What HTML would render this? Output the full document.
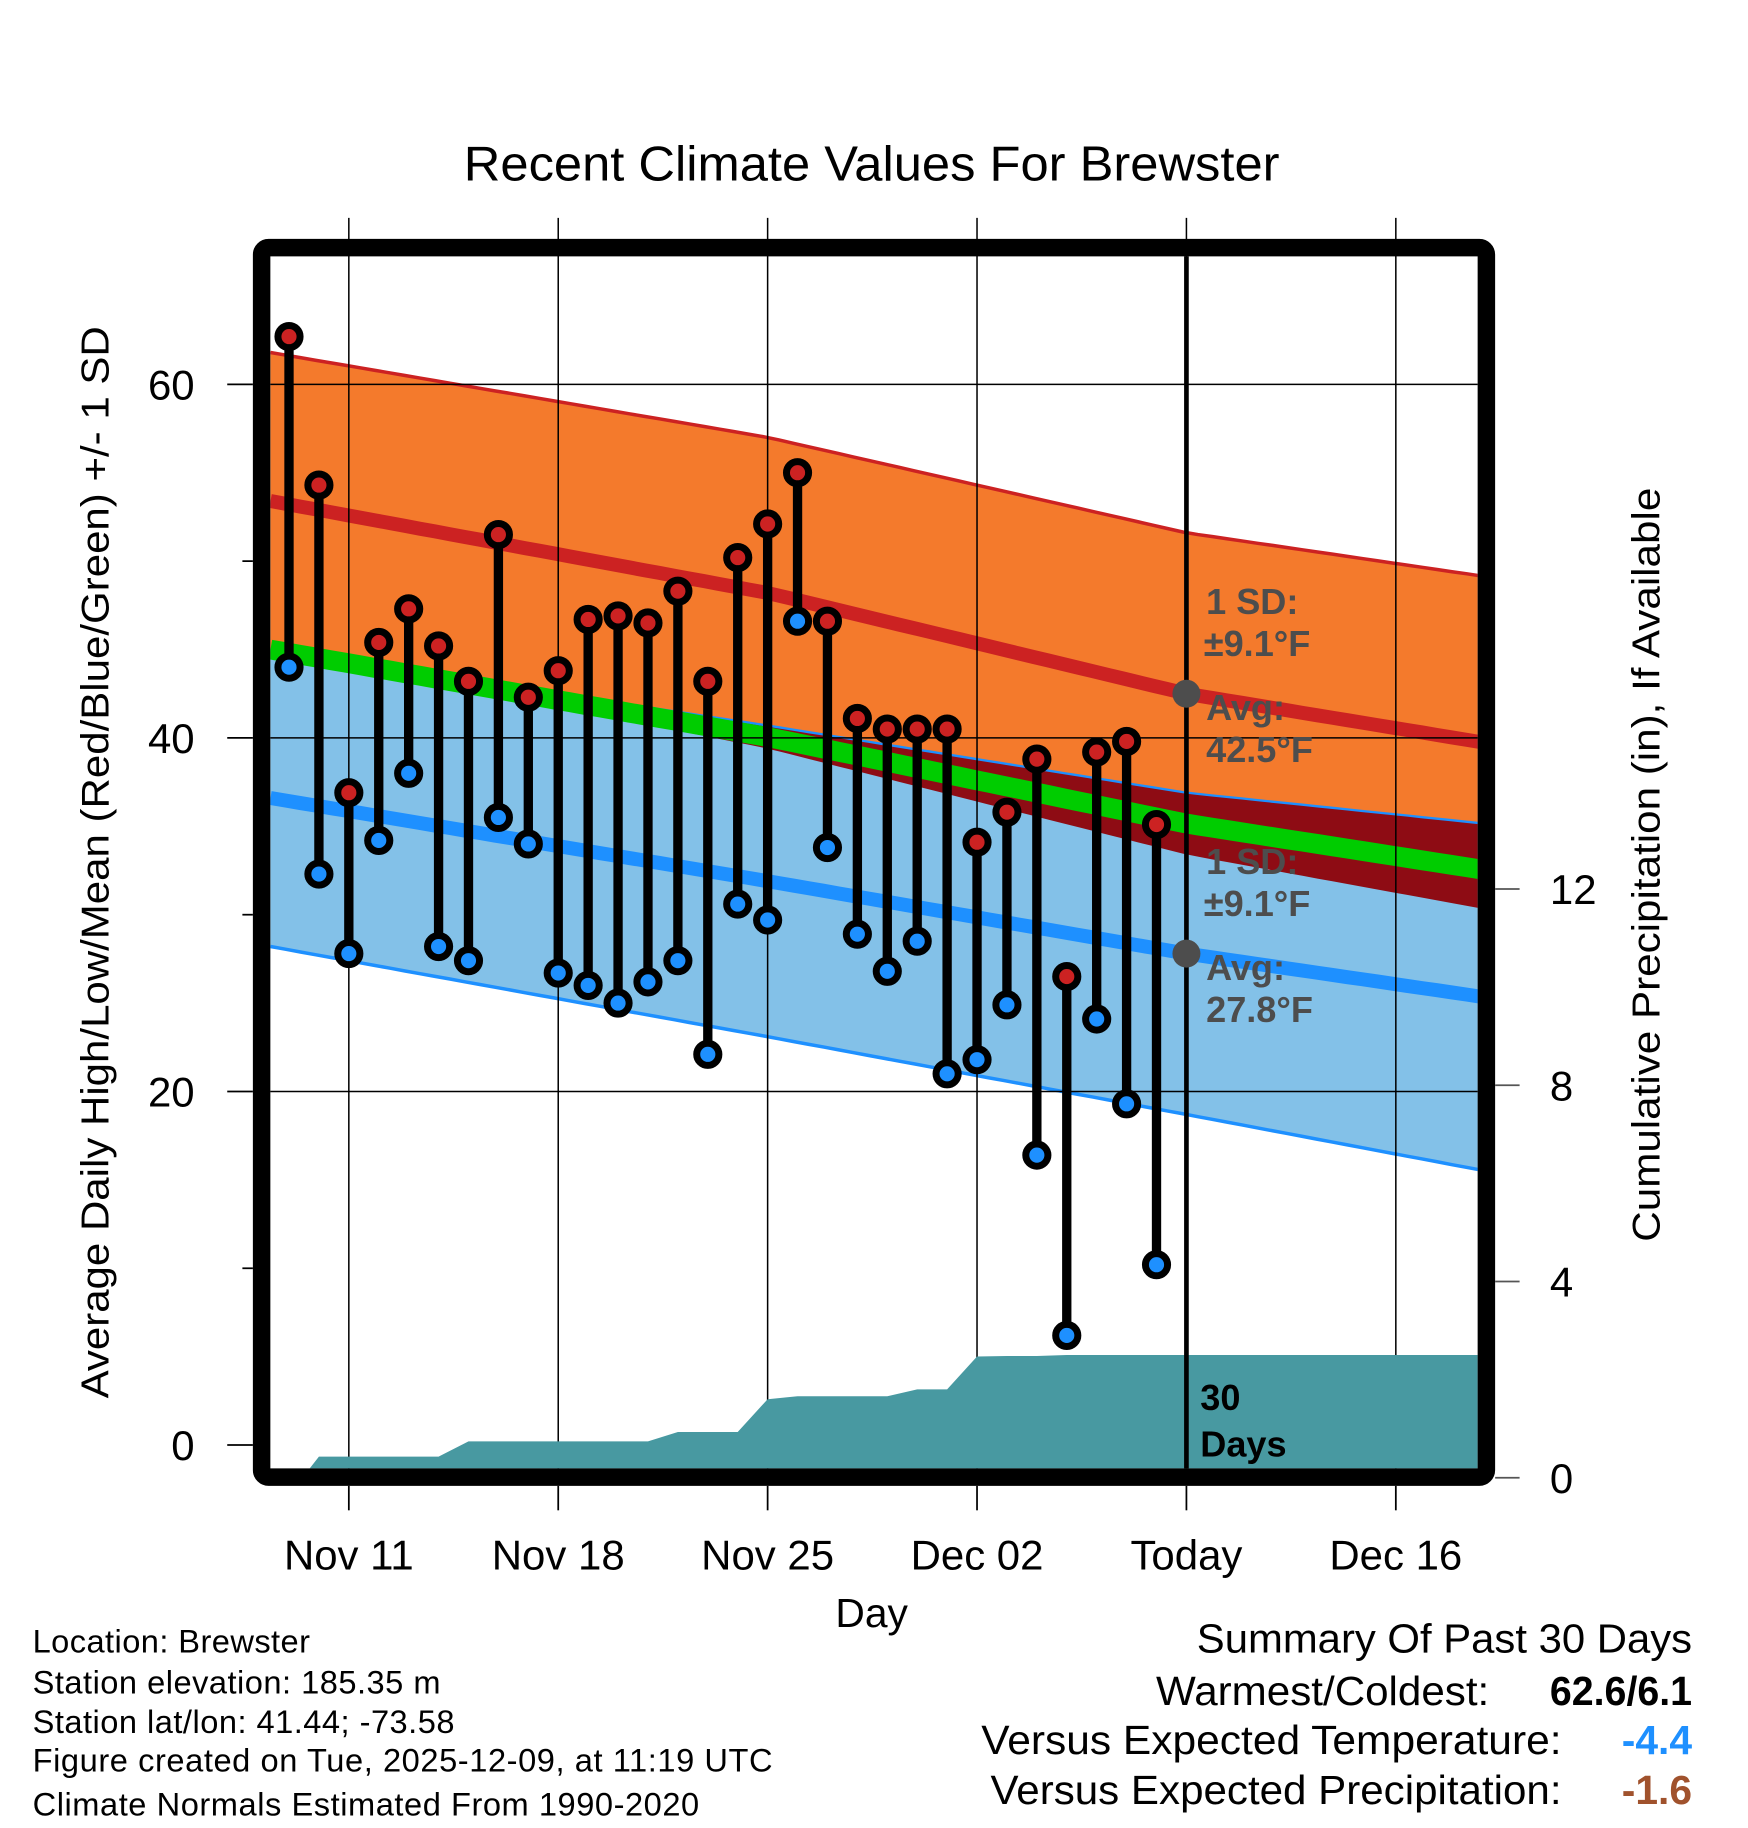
<!DOCTYPE html>
<html><head><meta charset="utf-8"><style>html,body{margin:0;padding:0;background:#fff}svg{display:block}</style></head>
<body>
<svg id="chart" xmlns="http://www.w3.org/2000/svg" width="1748" height="1828" viewBox="0 0 1500 1568.6" preserveAspectRatio="none" font-family="'Liberation Sans', sans-serif">
<defs><clipPath id="plotclip"><rect x="232" y="220" width="1036" height="1040"/></clipPath></defs>
<rect x="0" y="0" width="1500" height="1568.6" fill="#fff"/>
<text x="748" y="155" font-size="42" text-anchor="middle" textLength="700" lengthAdjust="spacingAndGlyphs">Recent Climate Values For Brewster</text>
<g id="bands" clip-path="url(#plotclip)"></g>
<g id="grid"></g>
<g id="precip" clip-path="url(#plotclip)"></g>
<g id="annot"></g>
<g id="marks"></g>
<rect x="224.5" y="212.5" width="1051" height="1055" rx="6" fill="none" stroke="#000" stroke-width="15"/>
<g id="axes"></g>
<text transform="translate(93,740) rotate(-90)" font-size="33" text-anchor="middle" textLength="920" lengthAdjust="spacingAndGlyphs">Average Daily High/Low/Mean (Red/Blue/Green) +/- 1 SD</text>
<text transform="translate(1424,742) rotate(-90)" font-size="33" text-anchor="middle" textLength="647" lengthAdjust="spacingAndGlyphs">Cumulative Precipitation (in), If Available</text>
<text x="748" y="1396" font-size="35" text-anchor="middle">Day</text>
<g font-size="28" lengthAdjust="spacingAndGlyphs">
<text x="28" y="1418" textLength="238">Location: Brewster</text>
<text x="28" y="1453" textLength="350">Station elevation: 185.35 m</text>
<text x="28" y="1487" textLength="362">Station lat/lon: 41.44; -73.58</text>
<text x="28" y="1520" textLength="635">Figure created on Tue, 2025-12-09, at 11:19 UTC</text>
<text x="28" y="1558" textLength="572">Climate Normals Estimated From 1990-2020</text>
</g>
<g font-size="35" text-anchor="end">
<text x="1452" y="1418" textLength="425" lengthAdjust="spacingAndGlyphs">Summary Of Past 30 Days</text>
<text x="1278" y="1463" textLength="286" lengthAdjust="spacingAndGlyphs">Warmest/Coldest:</text>
<text x="1452" y="1463" font-weight="bold" textLength="122" lengthAdjust="spacingAndGlyphs">62.6/6.1</text>
<text x="1340" y="1505" textLength="498" lengthAdjust="spacingAndGlyphs">Versus Expected Temperature:</text>
<text x="1452" y="1505" font-weight="bold" fill="#1e90ff">-4.4</text>
<text x="1340" y="1548" textLength="490" lengthAdjust="spacingAndGlyphs">Versus Expected Precipitation:</text>
<text x="1452" y="1548" font-weight="bold" fill="#a0522d">-1.6</text>
</g>
</svg>
<script>
// ---- data ----
const highs = [62.7,54.3,36.9,45.4,47.3,45.2,43.2,51.5,42.3,43.8,46.7,46.9,46.5,48.3,43.2,50.2,52.1,55.0,46.6,41.1,40.5,40.5,40.5,34.1,35.8,38.8,26.5,39.2,39.8,35.1];
const lows = [44.0,32.3,27.8,34.2,38.0,28.2,27.4,35.5,34.0,26.7,26.0,25.0,26.2,27.4,22.1,30.6,29.7,46.6,33.8,28.9,26.8,28.5,21.0,21.8,24.9,16.4,6.2,24.1,19.3,10.2];
const precipCum = [0,0.43,0.43,0.43,0.43,0.43,0.74,0.74,0.74,0.74,0.74,0.74,0.74,0.93,0.93,0.93,1.6,1.66,1.66,1.66,1.66,1.8,1.8,2.47,2.48,2.48,2.5,2.5,2.5,2.5];
const normDays = [-0.62,16,30,39.7];
const highMean = [53.4,48.2,42.5,39.8];
const highSD = [8.4,8.8,9.1,9.4];
const lowMean = [36.6,31.9,27.8,25.4];
const lowSD = [8.4,8.8,9.1,9.8];
const yTicks = [0,20,40,60];
const yMinor = [10,30,50];
const pTicks = [0,4,8,12];
const xTickDays = [2,9,16,23,30,37];
const xTickLabels = ["Nov 11","Nov 18","Nov 25","Dec 02","Today","Dec 16"];
// ---- scales ----
const NS='http://www.w3.org/2000/svg';
const X = d => 248 + 25.67*d;
const Y = v => 1240 - 15.17*v;
const P = v => 1268 - 42.1*v;
function mk(parent, tag, attrs){const e=document.createElementNS(NS,tag);for(const k in attrs)e.setAttribute(k,attrs[k]);document.getElementById(parent).appendChild(e);return e;}
function interp(arr, d){for(let i=0;i<normDays.length-1;i++){if(d<=normDays[i+1]||i===normDays.length-2){const t=(d-normDays[i])/(normDays[i+1]-normDays[i]);return arr[i]+t*(arr[i+1]-arr[i]);}}}
const samples=[];for(let d=-0.62;d<40.1;d+=0.5)samples.push(d);samples.push(40.3);
const hp=d=>interp(highMean,d)+interp(highSD,d), hm=d=>interp(highMean,d)-interp(highSD,d);
const lp=d=>interp(lowMean,d)+interp(lowSD,d), lm=d=>interp(lowMean,d)-interp(lowSD,d);
const pts=(f)=>samples.map(d=>X(d).toFixed(1)+','+Y(f(d)).toFixed(1));
let e;
e=mk('bands','polygon',{points:pts(hp).concat(pts(hm).reverse()).join(' '),fill:'#f47a2c'});

e=mk('bands','polygon',{points:pts(lp).concat(pts(lm).reverse()).join(' '),fill:'#83c1e8'});

e=mk('bands','polygon',{points:pts(lp).concat(pts(d=>Math.min(hm(d),lp(d))).reverse()).join(' '),fill:'#8e0c14'});

e=mk('bands','polyline',{points:pts(lp).join(' '),fill:'none',stroke:'#1e90ff','stroke-width':2});

e=mk('bands','polyline',{points:pts(hp).join(' '),fill:'none',stroke:'#cc2222','stroke-width':3});

e=mk('bands','polyline',{points:pts(lm).join(' '),fill:'none',stroke:'#1e90ff','stroke-width':3});

e=mk('bands','polyline',{points:pts(d=>interp(highMean,d)).join(' '),fill:'none',stroke:'#cc2222','stroke-width':12});

e=mk('bands','polyline',{points:pts(d=>interp(lowMean,d)).join(' '),fill:'none',stroke:'#1e90ff','stroke-width':12});

e=mk('bands','polyline',{points:pts(d=>(interp(highMean,d)+interp(lowMean,d))/2).join(' '),fill:'none',stroke:'#00cc00','stroke-width':17});

// grid
xTickDays.forEach((d,i)=>{
  e=mk('grid','line',{x1:X(d),x2:X(d),y1:187,y2:1260,stroke:'#000','stroke-width':1.3});
  
  e=mk('axes','line',{x1:X(d),x2:X(d),y1:1275,y2:1296,stroke:'#000','stroke-width':1.5});
  
  e=mk('axes','text',{x:X(d),y:1347,'font-size':36,'text-anchor':'middle'});e.textContent=xTickLabels[i];
  
});
yTicks.forEach(v=>{
  if(v>0){e=mk('grid','line',{x1:232,x2:1268,y1:Y(v),y2:Y(v),stroke:'#000','stroke-width':1.3});
  }
  e=mk('axes','line',{x1:195,x2:217,y1:Y(v),y2:Y(v),stroke:'#000','stroke-width':1.5});
  
  e=mk('axes','text',{x:167,y:Y(v)+13,'font-size':36,'text-anchor':'end'});e.textContent=v;
  
});
yMinor.forEach(v=>{e=mk('axes','line',{x1:208,x2:217,y1:Y(v),y2:Y(v),stroke:'#000','stroke-width':1.5});
  });
pTicks.forEach(v=>{
  e=mk('axes','line',{x1:1283,x2:1304,y1:P(v),y2:P(v),stroke:'#555','stroke-width':1.5});
  
  e=mk('axes','text',{x:1330,y:P(v)+13,'font-size':36});e.textContent=v;
  
});
// precip
let pp=[X(0.45)+','+P(0)];
precipCum.forEach((v,i)=>{if(i>0)pp.push(X(i)+','+P(v));});
pp.push('1270,'+P(precipCum[precipCum.length-1]));pp.push('1270,'+P(0));
e=mk('precip','polygon',{points:pp.join(' '),fill:'#4899a1'});

// today line
e=mk('annot','line',{x1:X(30),x2:X(30),y1:220,y2:1260,stroke:'#000','stroke-width':4});

function label(x,y,t,fs,col){const el=mk('annot','text',{x:x,y:y,'font-size':fs,'font-weight':'bold',fill:col});el.textContent=t;return el;}
e=label(1035,527,'1 SD:',31,'#4d4d4d');
e=label(1033,563,'±9.1°F',31,'#4d4d4d');
e=label(1035,618,'Avg:',31,'#4d4d4d');
e=label(1035,654,'42.5°F',31,'#4d4d4d');
e=label(1035,750,'1 SD:',31,'#4d4d4d');
e=label(1033,786,'±9.1°F',31,'#4d4d4d');
e=label(1035,841,'Avg:',31,'#4d4d4d');
e=label(1035,877,'27.8°F',31,'#4d4d4d');
e=mk('annot','circle',{cx:X(30),cy:Y(highMean[2]),r:12,fill:'#4d4d4d'});

e=mk('annot','circle',{cx:X(30),cy:Y(lowMean[2]),r:12,fill:'#4d4d4d'});

e=label(1030,1210,'30',31,'#000');
e=label(1030,1250,'Days',31,'#000');
// marks
highs.forEach((h,i)=>{
  e=mk('marks','line',{x1:X(i),x2:X(i),y1:Y(h),y2:Y(lows[i]),stroke:'#000','stroke-width':8});
  
});
highs.forEach((h,i)=>{
  e=mk('marks','circle',{cx:X(i),cy:Y(lows[i]),r:9.5,fill:'#1e90ff',stroke:'#000','stroke-width':6});
  
  e=mk('marks','circle',{cx:X(i),cy:Y(h),r:9.5,fill:'#cc2222',stroke:'#000','stroke-width':6});
  
});
</script>
</body></html>
